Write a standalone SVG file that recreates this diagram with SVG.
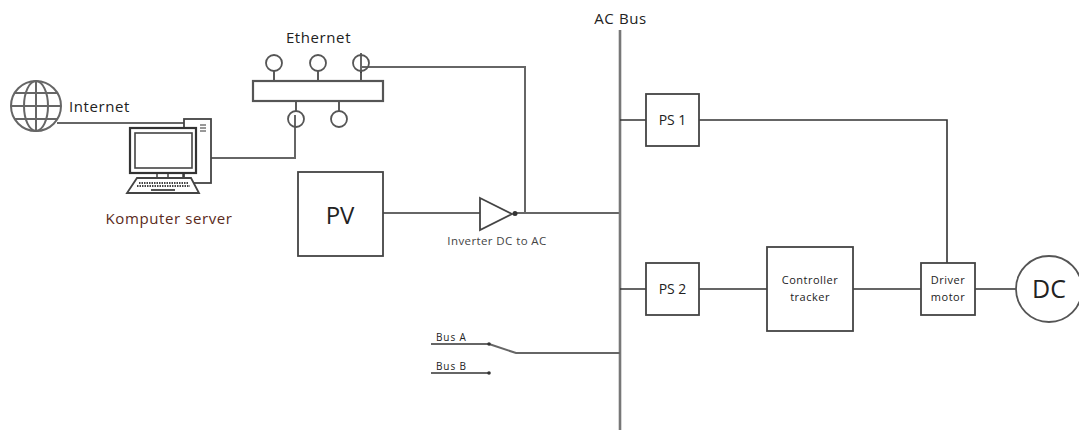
<svg xmlns="http://www.w3.org/2000/svg" width="1079" height="430" viewBox="0 0 1079 430">
<style>
text{font-family:"Open Sans","Noto Sans","Liberation Sans",sans-serif;fill:#222}
.l{fill:none;stroke:#333;stroke-width:1.6}
.b{fill:#fff;stroke:#444;stroke-width:1.8}
.g{fill:none;stroke:#666;stroke-width:2}
.t{fill:none;stroke:#777;stroke-width:2}
.s{font-size:11px;letter-spacing:.5px}
.m{font-size:15px;letter-spacing:.6px}
</style>
<g id="connectors">
<path class="l" d="M57 123H184"/>
<path class="g" d="M211 158H295V115"/>
<path class="g" d="M361 53V73M361 67H525V213"/>
<path class="g" d="M383 213H480"/>
<path class="g" d="M515 213H620"/>
<path class="t" style="stroke-width:2.6" d="M620 30V430"/>
<path class="l" d="M620 120H646M699 120H947V263"/>
<path class="l" d="M620 289H646M699 289H767M853 289H921M975 289H1016"/>
<path class="l" d="M431 344H489"/>
<path class="g" d="M489 344L516 353H620"/>
<path class="l" d="M431 373H489"/>
</g>
<g id="internet">
<g style="fill:none;stroke:#666;stroke-width:2">
<circle cx="36" cy="106" r="25"/>
<ellipse cx="36" cy="106" rx="12" ry="25"/>
<path d="M36 81V131M11 106H61M15 93H57M15 119H57"/>
</g>
<text class="m" x="69" y="112">Internet</text>
</g>
<g id="server">
<rect x="184" y="119" width="27" height="64" class="b"/>
<path d="M200 125h6M200 128h6M200 131h6" class="l" style="stroke-width:1"/>
<rect x="130" y="128" width="66" height="45" class="b" style="stroke-width:2.2;stroke:#333"/>
<rect x="135" y="133" width="57" height="35" class="b" style="stroke-width:1.6"/>
<path class="l" d="M157 173V178M168 173V178M183 173V178" style="stroke-width:1.4"/>
<path class="b" d="M137 178H191L199 193H127Z"/>
<path d="M139 183H188M137 186H190" style="fill:none;stroke:#444;stroke-width:2;stroke-dasharray:1.500 1"/>
<path d="M151 190H175" style="fill:none;stroke:#555;stroke-width:2"/>
<text x="169" y="224" text-anchor="middle" style="font-size:15px;letter-spacing:.6px;fill:#5a2a20">Komputer server</text>
</g>
<g id="ethernet">
<path class="l" d="M274 71V81M318 71V81M361 71V81M296 101V111M339 101V111"/>
<rect x="253" y="81" width="130" height="20" class="b" style="stroke:#555;stroke-width:2.2"/>
<g style="fill:none;stroke:#555;stroke-width:1.8">
<circle cx="274" cy="63" r="8"/><circle cx="318" cy="63" r="8"/><circle cx="361" cy="63" r="8"/>
<circle cx="296" cy="119" r="8"/><circle cx="339" cy="119" r="8"/>
</g>
<text class="m" x="318.500" y="43" text-anchor="middle">Ethernet</text>
</g>
<g id="pv">
<rect x="298" y="172" width="85" height="84" class="b"/>
<text x="340" y="224" text-anchor="middle" style="font-size:24px">PV</text>
</g>
<g id="inverter">
<path class="b" d="M480 198L512 214L480 230Z"/>
<circle cx="515" cy="213.500" r="2.500" fill="#333"/>
<text x="497" y="245" text-anchor="middle" style="font-size:11.500px;letter-spacing:.4px;fill:#444">Inverter DC to AC</text>
</g>
<g id="ac-bus"><text class="m" x="620.500" y="24" text-anchor="middle">AC Bus</text></g>
<g id="ps1">
<rect x="646" y="94" width="53" height="52" class="b"/>
<text x="672.500" y="125" text-anchor="middle" style="font-size:14px">PS 1</text>
</g>
<g id="ps2">
<rect x="646" y="263" width="53" height="52" class="b"/>
<text x="672.500" y="294" text-anchor="middle" style="font-size:14px">PS 2</text>
</g>
<g id="controller">
<rect x="767" y="247" width="86" height="84" class="b"/>
<text class="s" x="810" y="284" text-anchor="middle">Controller</text>
<text class="s" x="810" y="301" text-anchor="middle">tracker</text>
</g>
<g id="driver">
<rect x="921" y="263" width="54" height="52" class="b"/>
<text class="s" x="948" y="284" text-anchor="middle">Driver</text>
<text class="s" x="948" y="301" text-anchor="middle">motor</text>
</g>
<g id="dc">
<circle cx="1049" cy="289" r="33" class="b" style="stroke:#555"/>
<text x="1049" y="298" text-anchor="middle" style="font-size:25px">DC</text>
</g>
<g id="bus-a">
<circle cx="489" cy="344" r="1.800" fill="#333"/>
<text x="436" y="341" style="font-size:10px;letter-spacing:.9px">Bus A</text>
</g>
<g id="bus-b">
<circle cx="489" cy="373" r="1.800" fill="#333"/>
<text x="436" y="370" style="font-size:10px;letter-spacing:.9px">Bus B</text>
</g>
</svg>
